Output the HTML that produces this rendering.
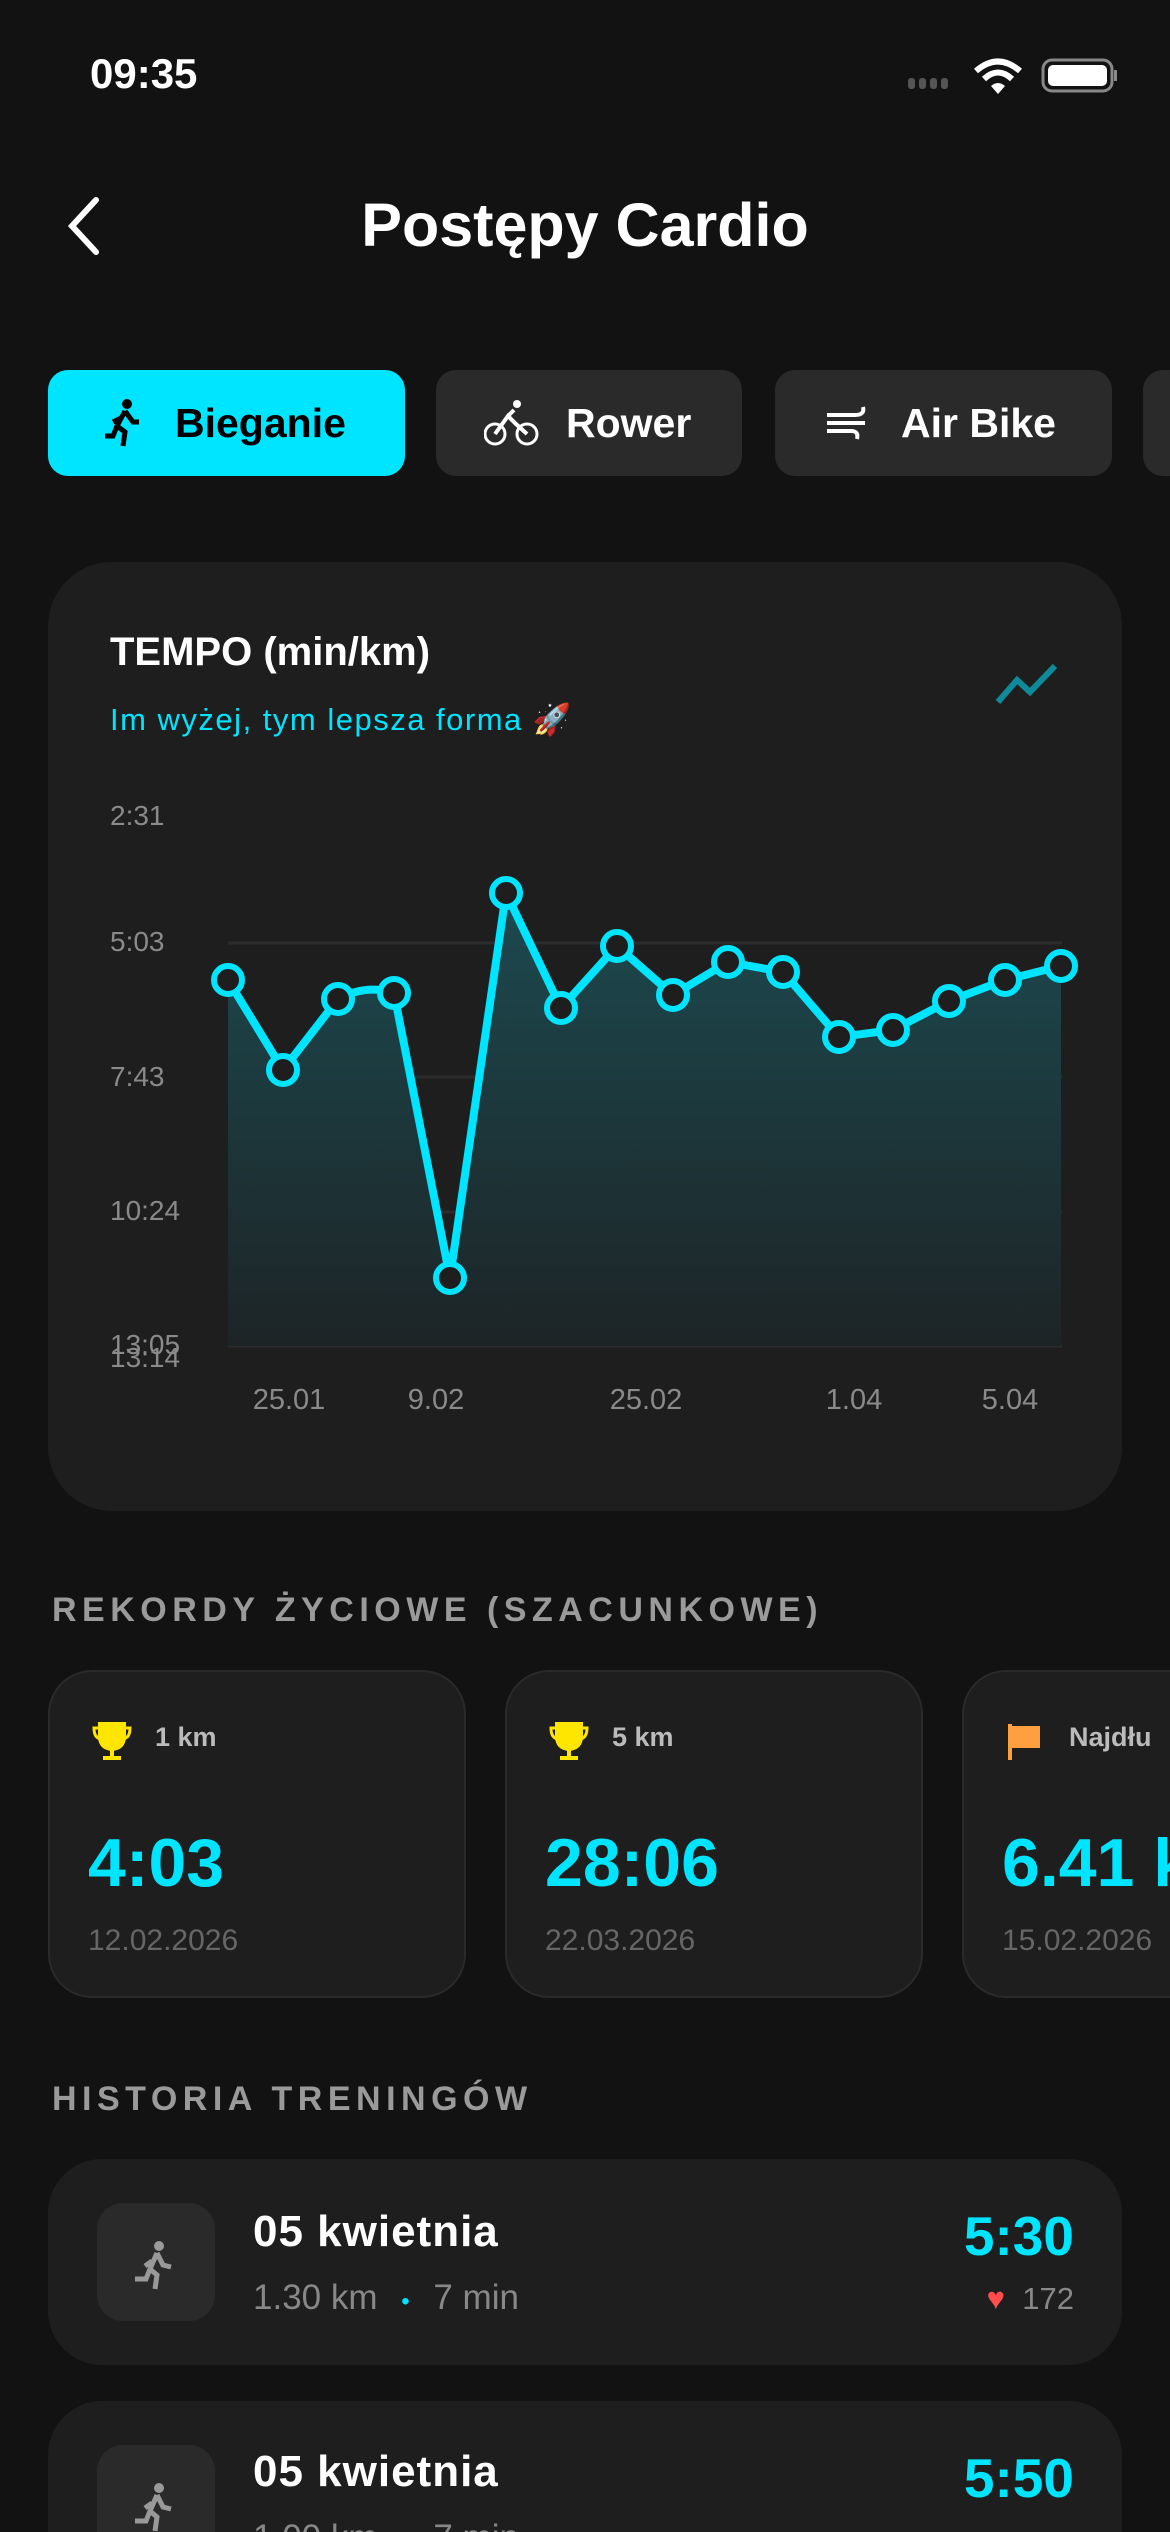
<!DOCTYPE html>
<html><head><meta charset="utf-8">
<style>
*{margin:0;padding:0;box-sizing:border-box}
html,body{width:1170px;height:2532px;overflow:hidden}
body{background:#121212;position:relative;font-family:"Liberation Sans","DejaVu Sans",sans-serif;color:#fff}
.a{position:absolute;white-space:nowrap}
.tab{position:absolute;top:370px;height:106px;border-radius:20px;background:#2a2a2a;font-weight:bold;font-size:41px;display:flex;align-items:center;overflow:hidden}
.card{position:absolute;background:#1e1e1e}
.rec{position:absolute;top:1670px;width:418px;height:328px;border-radius:44px;background:#1e1e1e;border:2px solid #2a2a2a;overflow:hidden}
.rec div{white-space:nowrap}
.rec .l{position:absolute;left:105px;top:50px;font-size:27px;font-weight:bold;color:#bbb}
.rec .v{position:absolute;left:38px;top:152px;font-size:68px;font-weight:bold;color:#00e5ff}
.rec .d{position:absolute;left:38px;top:252px;font-size:30px;color:#666}
.ylab{position:absolute;left:110px;font-size:28px;color:#8a8a8a}
.xlab{position:absolute;top:1384px;font-size:29px;color:#8a8a8a;transform:translateX(-50%)}
.hist{position:absolute;left:48px;width:1074px;height:206px;border-radius:54px;background:#1e1e1e}
.ib{position:absolute;left:49px;top:44px;width:118px;height:118px;border-radius:26px;background:#2a2a2a}
</style></head><body>
<div class="a" style="left:90px;top:50px;font-size:42px;font-weight:bold">09:35</div>
<svg class="a" style="left:900px;top:56px" width="220" height="40">
<g fill="#555"><rect x="8" y="22" width="7" height="11" rx="3"/><rect x="19" y="22" width="7" height="11" rx="3"/><rect x="30" y="22" width="7" height="11" rx="3"/><rect x="41" y="22" width="7" height="11" rx="3"/></g>
<path d="M76 15 Q98 -4 120 15" stroke="#fff" stroke-width="6" fill="none"/><path d="M84 23 Q98 10 112 23" stroke="#fff" stroke-width="6" fill="none"/><path d="M91 30 L98 38 L105 30 Q98 24 91 30Z" fill="#fff"/>
<rect x="143" y="4" width="69" height="31" rx="9" stroke="#888" stroke-width="3" fill="none"/><rect x="148" y="9" width="59" height="21" rx="5" fill="#fff"/><rect x="214" y="14" width="3" height="11" fill="#888"/>
</svg>
<svg class="a" style="left:64px;top:196px" width="40" height="60"><path d="M32 4 L8 30 L32 56" stroke="#fff" stroke-width="6" fill="none" stroke-linecap="round"/></svg>
<div class="a" style="left:0;width:1170px;text-align:center;top:190px;font-size:61px;font-weight:bold">Postępy Cardio</div>

<div class="tab" style="left:48px;width:357px;background:#00e5ff;color:#000;padding-left:55px">
<svg width="40" height="50" viewBox="0 0 40 50"><circle cx="24" cy="6" r="5"/><path d="M22 13 L14 28 L22 34 L20 48 M22 13 L30 24 L36 24 M18 20 L10 24 M14 28 L10 38 L2 38" stroke="#000" stroke-width="5" fill="none"/></svg>
<span style="margin-left:32px">Bieganie</span></div>
<div class="tab" style="left:436px;width:306px;padding-left:48px">
<svg width="56" height="50"><circle cx="11" cy="36" r="10" stroke="#fff" stroke-width="3" fill="none"/><circle cx="43" cy="36" r="10" stroke="#fff" stroke-width="3" fill="none"/><circle cx="33" cy="6" r="4" fill="#fff"/><path d="M11 36 L24 18 L32 26 L43 36 M24 18 L30 12" stroke="#fff" stroke-width="4" fill="none"/></svg>
<span style="margin-left:26px">Rower</span></div>
<div class="tab" style="left:775px;width:337px;padding-left:50px">
<svg width="46" height="40"><path d="M2 12 H30 Q40 12 38 4 M2 20 H40 M2 28 H26 Q34 28 32 36" stroke="#fff" stroke-width="4" fill="none"/></svg>
<span style="margin-left:30px">Air Bike</span></div>
<div class="tab" style="left:1143px;width:27px;border-radius:20px 0 0 20px"></div>

<div class="card" style="left:48px;top:562px;width:1074px;height:949px;border-radius:64px"></div>
<div class="a" style="left:110px;top:630px;font-size:40px;font-weight:bold">TEMPO (min/km)</div>
<div class="a" style="left:110px;top:701px;font-size:31px;color:#00e5ff;letter-spacing:1.5px">Im wyżej, tym lepsza forma 🚀</div>
<svg class="a" style="left:995px;top:660px" width="64" height="46"><path d="M3 42 L22 20 L35 32 L60 6" stroke="#0f8a9a" stroke-width="6" fill="none"/></svg>

<div class="ylab" style="top:800px">2:31</div>
<div class="ylab" style="top:926px">5:03</div>
<div class="ylab" style="top:1061px">7:43</div>
<div class="ylab" style="top:1195px">10:24</div>
<div class="ylab" style="top:1329px">13:05</div>
<div class="ylab" style="top:1342px">13:14</div>

<svg class="a" style="left:0;top:0" width="1170" height="1500">
<defs><linearGradient id="g" x1="0" y1="0" x2="0" y2="1"><stop offset="0" stop-color="#1c4a50"/><stop offset="1" stop-color="#1d2426"/></linearGradient></defs>
<g stroke="#2c2c2c" stroke-width="3"><line x1="228" y1="943" x2="1062" y2="943"/><line x1="228" y1="1077" x2="1062" y2="1077"/><line x1="228" y1="1212" x2="1062" y2="1212"/><line x1="228" y1="1346" x2="1062" y2="1346"/></g>
<path d="M228 980 L283 1070 L338 999 Q366 984 394 993 L450 1278 L506 893 L561 1008 L617 946 L673 995 L728 962 L783 972 L839 1037 L893 1030 L949 1001 L1005 980 L1061 966 L1061 1346 L228 1346Z" fill="url(#g)"/>
<path d="M228 980 L283 1070 L338 999 Q366 984 394 993 L450 1278 L506 893 L561 1008 L617 946 L673 995 L728 962 L783 972 L839 1037 L893 1030 L949 1001 L1005 980 L1061 966" stroke="#00e5ff" stroke-width="8" fill="none" stroke-linejoin="round"/>
<g fill="#1e1e1e" stroke="#00e5ff" stroke-width="6">
<circle cx="228" cy="980" r="14"/><circle cx="283" cy="1070" r="14"/><circle cx="338" cy="999" r="14"/><circle cx="394" cy="993" r="14"/><circle cx="450" cy="1278" r="14"/><circle cx="506" cy="893" r="14"/><circle cx="561" cy="1008" r="14"/><circle cx="617" cy="946" r="14"/><circle cx="673" cy="995" r="14"/><circle cx="728" cy="962" r="14"/><circle cx="783" cy="972" r="14"/><circle cx="839" cy="1037" r="14"/><circle cx="893" cy="1030" r="14"/><circle cx="949" cy="1001" r="14"/><circle cx="1005" cy="980" r="14"/><circle cx="1061" cy="966" r="14"/>
</g></svg>
<div class="xlab" style="left:289px">25.01</div>
<div class="xlab" style="left:436px">9.02</div>
<div class="xlab" style="left:646px">25.02</div>
<div class="xlab" style="left:854px">1.04</div>
<div class="xlab" style="left:1010px">5.04</div>

<div class="a" style="left:52px;top:1591px;font-size:34px;font-weight:bold;color:#9a9a9a;letter-spacing:5.5px">REKORDY ŻYCIOWE (SZACUNKOWE)</div>
<div class="rec" style="left:48px"><svg class="a" style="left:42px;top:50px" width="40" height="40"><path d="M8 2 H32 V14 Q32 26 20 27 Q8 26 8 14Z M20 27 V34 M11 36 H29" stroke="#ffe600" stroke-width="4" fill="#ffe600"/><path d="M8 6 H2 Q2 16 9 17 M32 6 H38 Q38 16 31 17" stroke="#ffe600" stroke-width="3" fill="none"/></svg><div class="l">1 km</div><div class="v">4:03</div><div class="d">12.02.2026</div></div>
<div class="rec" style="left:505px"><svg class="a" style="left:42px;top:50px" width="40" height="40"><path d="M8 2 H32 V14 Q32 26 20 27 Q8 26 8 14Z M20 27 V34 M11 36 H29" stroke="#ffe600" stroke-width="4" fill="#ffe600"/><path d="M8 6 H2 Q2 16 9 17 M32 6 H38 Q38 16 31 17" stroke="#ffe600" stroke-width="3" fill="none"/></svg><div class="l">5 km</div><div class="v">28:06</div><div class="d">22.03.2026</div></div>
<div class="rec" style="left:962px;width:208px;border-right:none;border-radius:44px 0 0 44px"><svg class="a" style="left:42px;top:50px" width="40" height="40"><path d="M4 2 V38" stroke="#ffa040" stroke-width="4"/><rect x="4" y="4" width="30" height="22" fill="#ffa040"/></svg><div class="l">Najdłu</div><div class="v">6.41 k</div><div class="d">15.02.2026</div></div>

<div class="a" style="left:52px;top:2080px;font-size:34px;font-weight:bold;color:#9a9a9a;letter-spacing:5.5px">HISTORIA TRENINGÓW</div>

<div class="hist" style="top:2159px"><div class="ib"><svg class="a" style="left:36px;top:38px" width="46" height="50"><circle cx="26" cy="5" r="5" fill="#999"/><path d="M24 12 L17 28 L24 34 L22 48 M24 12 L30 24 L38 26 M19 20 L12 25 M17 28 L13 38 L2 38" stroke="#999" stroke-width="5" fill="none"/></svg></div>
<div class="a" style="left:205px;top:48px;font-size:44px;font-weight:bold;letter-spacing:1px">05 kwietnia</div>
<div class="a" style="left:205px;top:119px;font-size:35px;color:#888">1.30 km <span style="color:#00e5ff;font-size:24px;margin:0 14px">•</span> 7 min</div>
<div class="a" style="right:48px;top:45px;font-size:55px;font-weight:bold;color:#00e5ff">5:30</div>
<div class="a" style="right:48px;top:122px;font-size:31px;color:#888"><span style="color:#ff4d4d">♥</span>&nbsp; 172</div></div>

<div class="hist" style="top:2401px;height:131px;border-radius:54px 54px 0 0;overflow:hidden"><div class="ib"><svg class="a" style="left:36px;top:38px" width="46" height="50"><circle cx="26" cy="5" r="5" fill="#999"/><path d="M24 12 L17 28 L24 34 L22 48 M24 12 L30 24 L38 26 M19 20 L12 25 M17 28 L13 38 L2 38" stroke="#999" stroke-width="5" fill="none"/></svg></div>
<div class="a" style="left:205px;top:46px;font-size:44px;font-weight:bold;letter-spacing:1px">05 kwietnia</div>
<div class="a" style="left:205px;top:117px;font-size:35px;color:#888">1.00 km <span style="color:#00e5ff;font-size:24px;margin:0 14px">•</span> 7 min</div>
<div class="a" style="right:48px;top:45px;font-size:55px;font-weight:bold;color:#00e5ff">5:50</div></div>
</body></html>
